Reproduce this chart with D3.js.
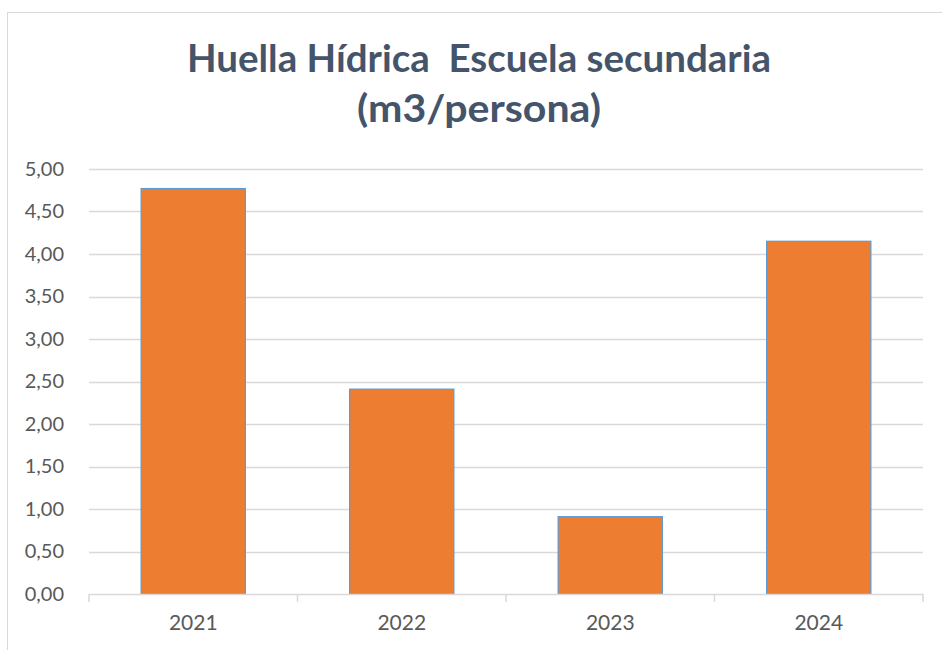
<!DOCTYPE html>
<html>
<head>
<meta charset="utf-8">
<script src="https://cdn.jsdelivr.net/npm/d3@7"></script>
<style>
  body { margin: 0; background: #fff; }
  .title { white-space: pre; }
</style>
</head>
<body>
<div id="chart"></div>
<script>
// Data
const years = ["2021", "2022", "2023", "2024"];
const values = [4.77, 2.41, 0.91, 4.15];
const yTicks = [0, 0.5, 1, 1.5, 2, 2.5, 3, 3.5, 4, 4.5, 5];
const titleLines = ["Huella Hídrica  Escuela secundaria", "(m3/persona)"];

const W = 942, H = 650;
const margin = { top: 169, right: 19, bottom: 56, left: 89 };
const width = W - margin.left - margin.right;
const height = H - margin.top - margin.bottom;
const font = "Lato, 'Open Sans', sans-serif";

const svg = d3.select("#chart").append("svg")
  .attr("width", W)
  .attr("height", H)
  .style("font-family", font);

// chart frame
svg.append("rect")
  .attr("x", 7.5).attr("y", 12.5)
  .attr("width", W + 10).attr("height", H + 10)
  .attr("fill", "none")
  .attr("stroke", "#d9d9d9");

// title
const titleWidths = [584, 244];
svg.selectAll(".title")
  .data(titleLines)
  .enter().append("text")
  .attr("class", "title")
  .attr("x", 479)
  .attr("y", (d, i) => 72 + i * 50)
  .attr("text-anchor", "middle")
  .attr("font-size", 38)
  .attr("font-weight", "bold")
  .attr("fill", "#44546a")
  .attr("textLength", (d, i) => titleWidths[i])
  .attr("lengthAdjust", "spacingAndGlyphs")
  .text(d => d);

const g = svg.append("g")
  .attr("transform", `translate(${margin.left},${margin.top})`);

const x = d3.scaleBand()
  .domain(years)
  .range([0, width])
  .paddingInner(0.5)
  .paddingOuter(0.25);

const y = d3.scaleLinear()
  .domain([0, 5])
  .range([height, 0]);

// gridlines
g.selectAll(".grid")
  .data(yTicks.filter(d => d > 0))
  .enter().append("line")
  .attr("x1", 0).attr("x2", width)
  .attr("y1", d => Math.round(y(d)) + 0.5)
  .attr("y2", d => Math.round(y(d)) + 0.5)
  .attr("stroke", "#d9d9d9")
  .attr("stroke-width", 1.5);

// y axis labels
const yAxis = d3.axisLeft(y)
  .tickValues(yTicks)
  .tickSize(0)
  .tickPadding(25)
  .tickFormat(d => d3.format(".2f")(d).replace(".", ","));

g.append("g")
  .call(yAxis)
  .call(a => a.select(".domain").remove())
  .selectAll("text")
  .attr("font-size", 20)
  .attr("fill", "#595959")
  .attr("font-family", font);

// bars
g.selectAll(".bar")
  .data(values)
  .enter().append("rect")
  .attr("class", "bar")
  .attr("x", (d, i) => x(years[i]))
  .attr("width", x.bandwidth())
  .attr("y", d => y(d))
  .attr("height", d => height - y(d))
  .attr("fill", "#ed7d31")
  .attr("stroke", "#5b9bd5")
  .attr("stroke-width", 1.2);

// x axis
const xAxis = d3.axisBottom(x)
  .tickSize(0)
  .tickPadding(21);

const xg = g.append("g")
  .attr("transform", `translate(0,${height})`)
  .call(xAxis);
xg.select(".domain")
  .attr("stroke", "#d9d9d9")
  .attr("stroke-width", 1.5);
xg.selectAll("text")
  .attr("font-size", 21)
  .attr("fill", "#595959")
  .attr("font-family", font);

// category separator ticks
const step = x.step();
xg.selectAll(".sep")
  .data(d3.range(years.length + 1))
  .enter().append("line")
  .attr("x1", i => x(years[0]) - x.bandwidth() / 2 + i * step)
  .attr("x2", i => x(years[0]) - x.bandwidth() / 2 + i * step)
  .attr("y1", 0).attr("y2", 8)
  .attr("stroke", "#d9d9d9")
  .attr("stroke-width", 1.5);
</script>
</body>
</html>
